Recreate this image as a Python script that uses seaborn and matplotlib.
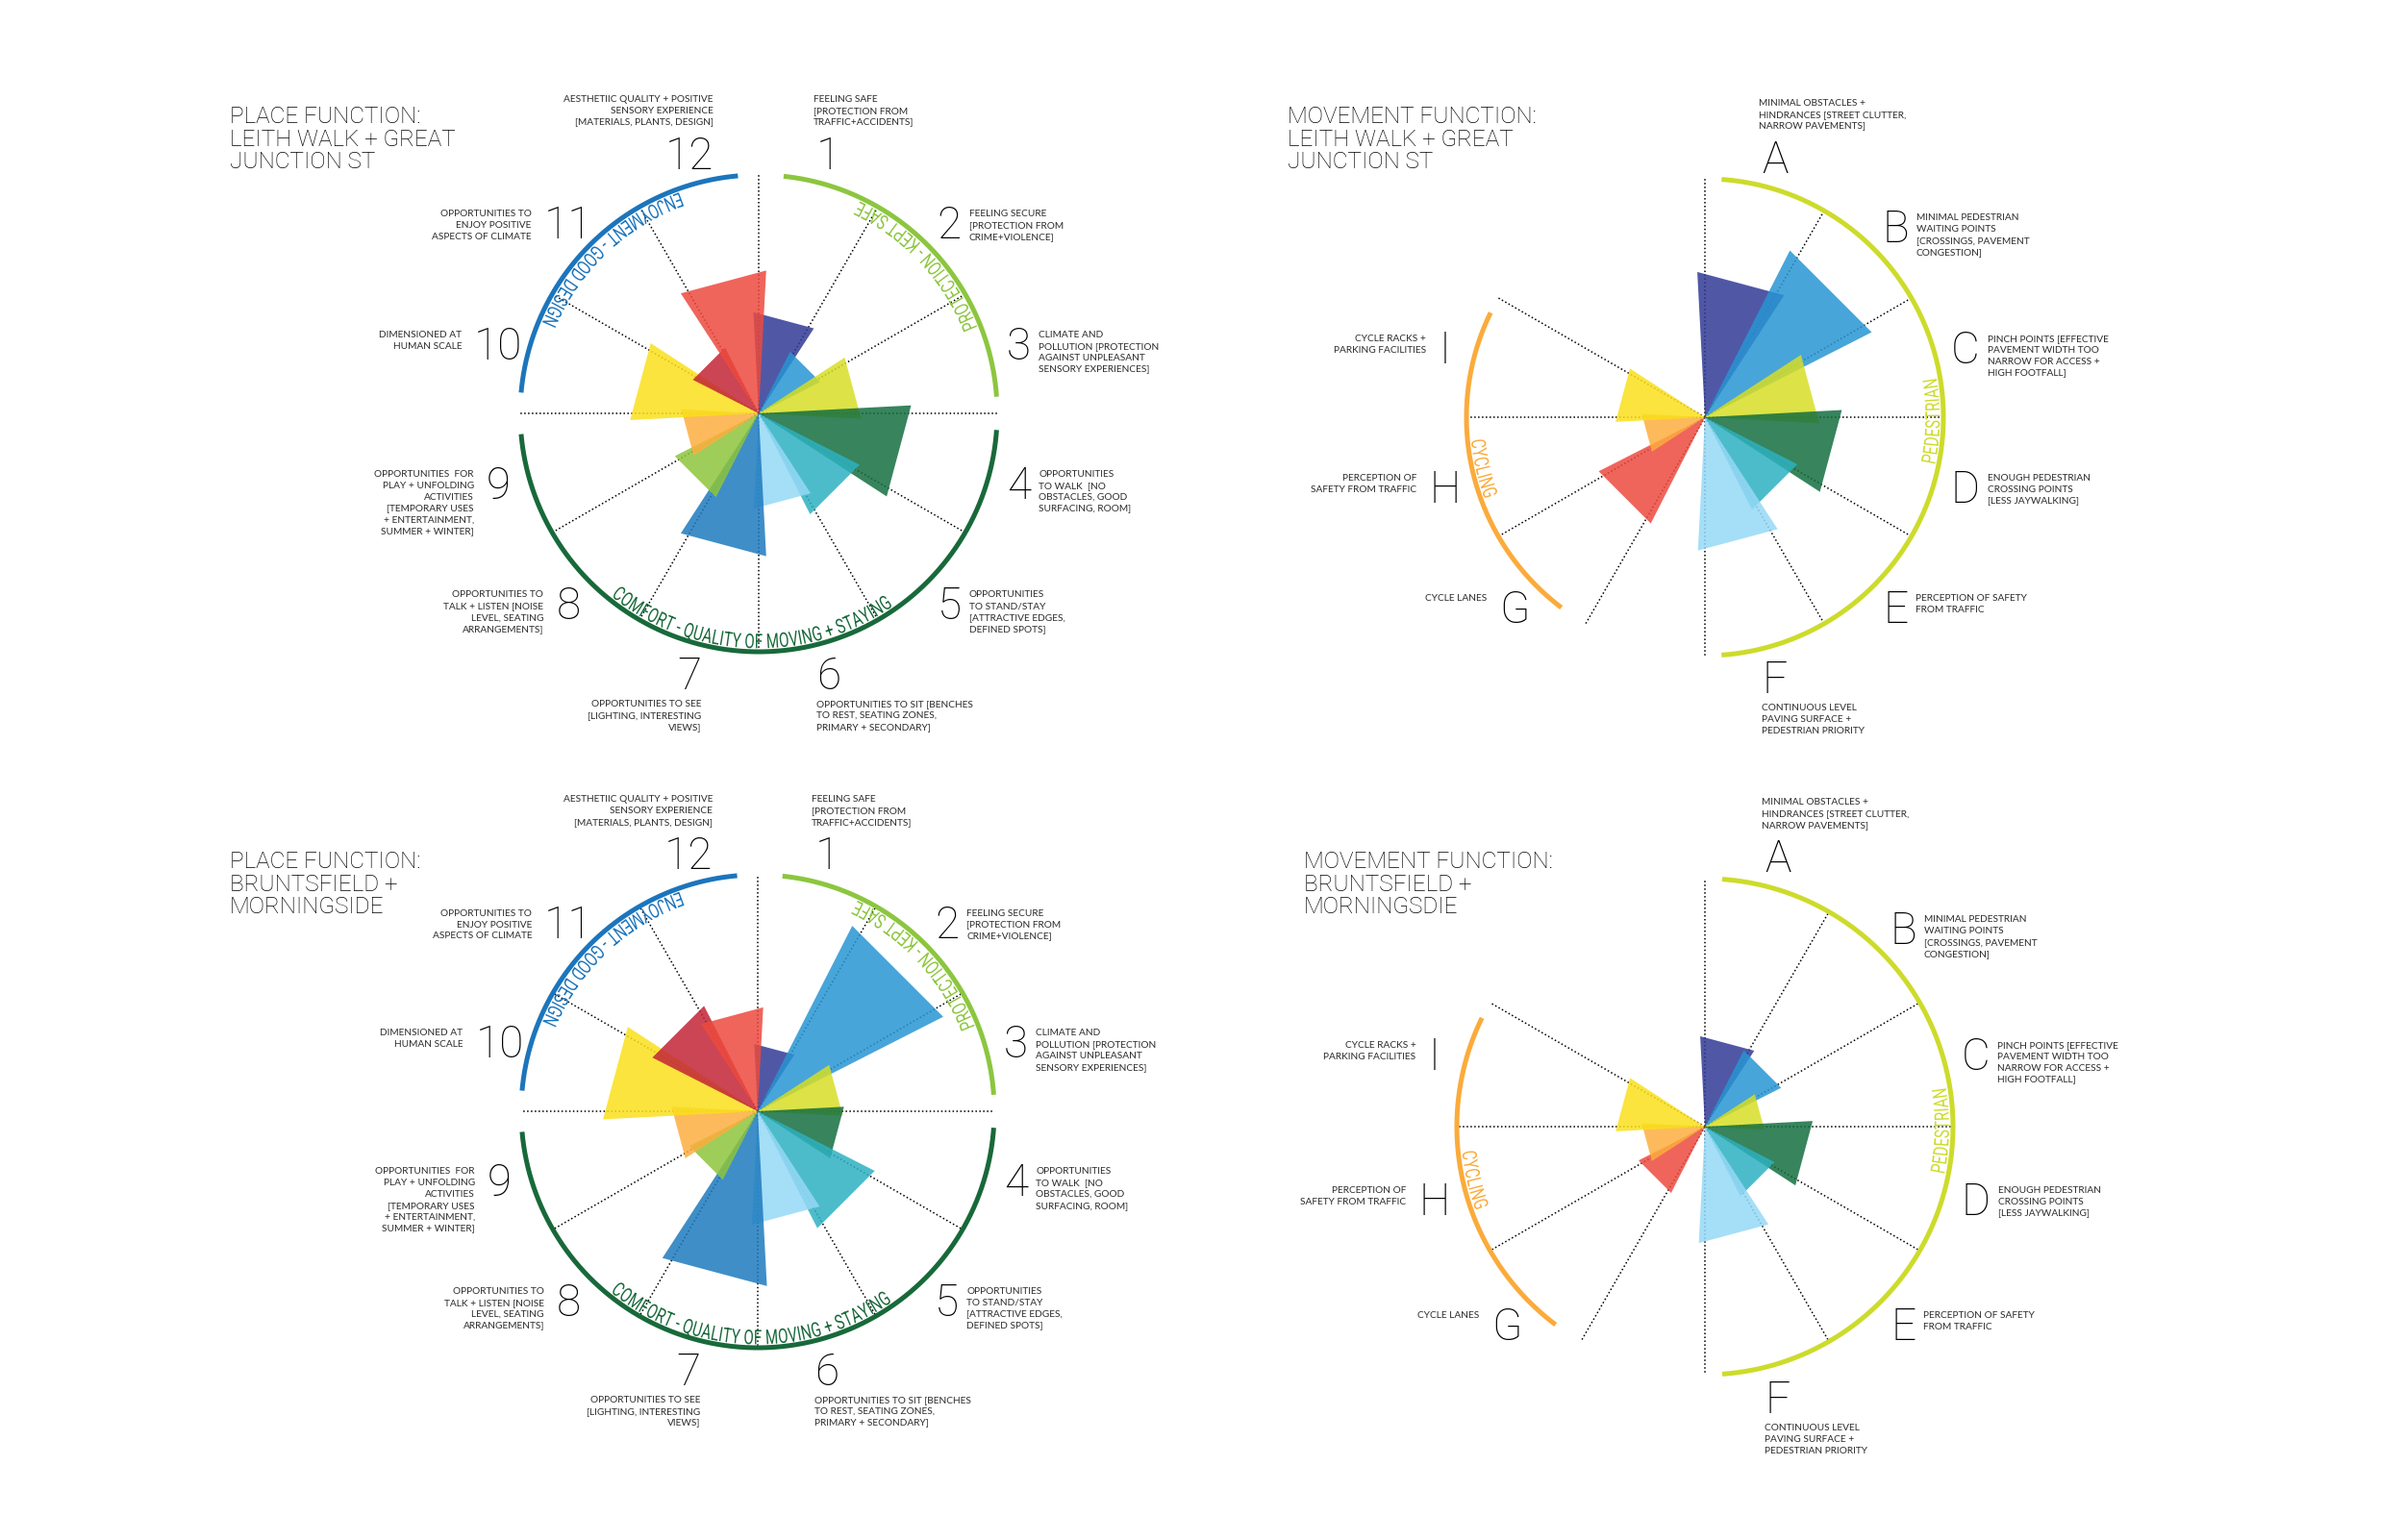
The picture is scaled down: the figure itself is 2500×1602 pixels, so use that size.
import numpy as np
import matplotlib
matplotlib.use("Agg")
import matplotlib.pyplot as plt
import matplotlib.colors as mcolors
import seaborn as sns
from matplotlib.patches import PathPatch
from matplotlib.textpath import TextPath
from matplotlib.font_manager import FontProperties, findfont, get_font
from matplotlib.transforms import Affine2D

# ---------------- data (scores on a 0-10 scale, 10 = outer ring) ----------------
place_labels = ["1", "2", "3", "4", "5", "6", "7", "8", "9", "10", "11", "12"]
place_text = [
    "FEELING SAFE\n[PROTECTION FROM\nTRAFFIC+ACCIDENTS]",
    "FEELING SECURE\n[PROTECTION FROM\nCRIME+VIOLENCE]",
    "CLIMATE AND\nPOLLUTION [PROTECTION\nAGAINST UNPLEASANT\nSENSORY EXPERIENCES]",
    "OPPORTUNITIES\nTO WALK  [NO\nOBSTACLES, GOOD\nSURFACING, ROOM]",
    "OPPORTUNITIES\nTO STAND/STAY\n[ATTRACTIVE EDGES,\nDEFINED SPOTS]",
    "OPPORTUNITIES TO SIT [BENCHES\nTO REST, SEATING ZONES,\nPRIMARY + SECONDARY]",
    "OPPORTUNITIES TO SEE\n[LIGHTING, INTERESTING\nVIEWS]",
    "OPPORTUNITIES TO\nTALK + LISTEN [NOISE\nLEVEL, SEATING\nARRANGEMENTS]",
    "OPPORTUNITIES  FOR\nPLAY + UNFOLDING\nACTIVITIES\n[TEMPORARY USES\n+ ENTERTAINMENT,\nSUMMER + WINTER]",
    "DIMENSIONED AT\nHUMAN SCALE",
    "OPPORTUNITIES TO\nENJOY POSITIVE\nASPECTS OF CLIMATE",
    "AESTHETIIC QUALITY + POSITIVE\nSENSORY EXPERIENCE\n[MATERIALS, PLANTS, DESIGN]",
]
place_leith = [4.25, 2.9, 4.3, 6.4, 4.75, 4.0, 6.0, 3.95, 3.25, 5.4, 3.1, 6.0]
place_brunts = [2.85, 8.8, 3.6, 3.65, 5.55, 4.8, 7.4, 3.25, 3.65, 6.55, 5.0, 4.4]

move_labels = ["A", "B", "C", "D", "E", "F", "G", "H", "I"]
move_text = [
    "MINIMAL OBSTACLES +\nHINDRANCES [STREET CLUTTER,\nNARROW PAVEMENTS]",
    "MINIMAL PEDESTRIAN\nWAITING POINTS\n[CROSSINGS, PAVEMENT\nCONGESTION]",
    "PINCH POINTS [EFFECTIVE\nPAVEMENT WIDTH TOO\nNARROW FOR ACCESS +\nHIGH FOOTFALL]",
    "ENOUGH PEDESTRIAN\nCROSSING POINTS\n[LESS JAYWALKING]",
    "PERCEPTION OF SAFETY\nFROM TRAFFIC",
    "CONTINUOUS LEVEL\nPAVING SURFACE +\nPEDESTRIAN PRIORITY",
    "CYCLE LANES",
    "PERCEPTION OF\nSAFETY FROM TRAFFIC",
    "CYCLE RACKS +\nPARKING FACILITIES",
]
move_leith = [6.1, 7.85, 4.8, 5.75, 4.35, 5.6, 5.0, 2.65, 3.75]
move_brunts = [3.65, 3.45, 2.4, 4.35, 3.15, 4.7, 3.0, 2.55, 3.6]

place_colors = ["#5058a6", "#48a5da", "#dde346", "#37855d", "#4dbdca", "#a6dff7",
                "#3f8ec8", "#9fce59", "#fdba5c", "#fbe53d", "#cb4554", "#f0655b"]
move_colors = ["#5058a6", "#48a5da", "#dde346", "#37855d", "#4dbdca", "#a6dff7",
               "#f0655b", "#fdba5c", "#fbe53d"]

# group rings: name, start deg, end deg, text centre deg, colour
place_groups = [("ENJOYMENT - GOOD DESIGN", 95, 175, 133.5, "#1c75bc"),
                ("PROTECTION - KEPT SAFE", 4, 84, 43, "#8cc63f"),
                ("COMFORT - QUALITY OF MOVING + STAYING", 185, 356, 268, "#18693a")]
move_groups = [("PEDESTRIAN", -86, 86, -1, "#cddb2b"),
               ("CYCLING", 154, 233, 193, "#fbab3b")]

# sector centres (deg, counter-clockwise from east) and guide lines
place_angles = [(75 - 30 * i + 180) % 360 - 180 for i in range(12)]
move_slots = [0, 1, 2, 3, 4, 5, 7, 8, 9]
move_angles = [(75 - 30 * k + 180) % 360 - 180 for k in move_slots]
place_lines = [90 - 30 * j for j in range(12)]
move_lines = [90 - 30 * j for j in range(11)]

# ---------------- style ----------------
sns.set_theme(style="white")
plt.rcParams["font.family"] = ["Lato", "DejaVu Sans"]
THIN = ["Roboto", "DejaVu Sans"]

W, H = 2500, 1602
fig = plt.figure(figsize=(W / 100, H / 100), dpi=100)
fig.patch.set_facecolor("white")
renderer = fig.canvas.get_renderer()

ALPHA = 0.85
NUM_PT = 33


def solid(c):
    rgb = np.array(mcolors.to_rgb(c))
    return tuple(np.clip(1 - (1 - rgb) / ALPHA, 0, 1))


arc_fp = FontProperties(family="Roboto")
arc_font = get_font(findfont(arc_fp))
arc_font.set_size(100, 72)


def arc_text(ax, text, mid_deg, r, size, color, squeeze=0.72):
    # letters laid along the ring, running counter-clockwise, tops toward the centre
    em = np.array([arc_font.load_char(ord(c)).linearHoriAdvance / 65536 / 100 for c in text])
    adv = em * size * squeeze
    pos = np.cumsum(adv) - adv / 2
    phi0 = np.radians(mid_deg) - adv.sum() / r / 2
    for c, p, a in zip(text, pos, adv):
        if c == " ":
            continue
        phi = phi0 + p / r
        tp = TextPath((0, 0), c, size=size, prop=arc_fp)
        tr = (Affine2D().translate(-a / squeeze / 2, -0.711 * size / 2)
              .scale(squeeze, 1).rotate(phi + np.pi / 2)
              .translate(r * np.cos(phi), r * np.sin(phi)))
        ax.add_patch(PathPatch(tr.transform_path(tp), fc=color, ec="none", lw=0, zorder=2))


def draw_chart(cx, cy, R_px, values, colors, angles, labels, texts, lines, groups,
               title, tx, ty):
    s = R_px / 10.0
    half = 560
    ax = fig.add_axes([(cx - half) / W, 1 - (cy + half) / H, 2 * half / W, 2 * half / H])
    ax.set_xlim(-half / s, half / s)
    ax.set_ylim(-half / s, half / s)
    ax.set_axis_off()

    for a in lines:
        t = np.radians(a)
        ax.plot([0, 10 * np.cos(t)], [0, 10 * np.sin(t)], color="black", lw=1.1,
                ls=(0, (1, 1.6)), zorder=1)

    for name, a0, a1, amid, col in groups:
        t = np.radians(np.linspace(a0, a1, 300))
        ax.plot(10 * np.cos(t), 10 * np.sin(t), color=col, lw=3.6,
                solid_capstyle="butt", zorder=2)
        arc_text(ax, name, amid, 9.55, 21 / s, col)

    for v, a, c in zip(values, angles, colors):
        t = np.radians([a - 18, a + 18])
        ax.fill([0, v * np.cos(t[0]), v * np.cos(t[1])],
                [0, v * np.sin(t[0]), v * np.sin(t[1])],
                color=solid(c), alpha=ALPHA, lw=0, zorder=3)

    inv = ax.transData.inverted()
    cap = 0.711 * NUM_PT * 100 / 72 / s
    for lab, txt, a in zip(labels, texts, angles):
        t = np.radians(a)
        num = ax.text(11.3 * np.cos(t), 11.3 * np.sin(t) - cap / 2, lab, ha="center",
                      va="baseline", fontsize=NUM_PT, family=THIN, fontweight="light",
                      color="black")
        bb = num.get_window_extent(renderer)
        if 60 < a < 120:
            x, ha = (bb.x1, "right") if a > 90 else (bb.x0 - 3, "left")
            y, va = bb.y1 + 9, "bottom"
        elif -120 < a < -60:
            x, ha = (bb.x1, "right") if a < -90 else (bb.x0, "left")
            y, va = bb.y0 - 2, "top"
        elif np.cos(t) > 0:
            x, ha = bb.x1 + 8, "left"
            y, va = bb.y1 - 5, "top"
        else:
            x, ha = bb.x0 - 13, "right"
            y, va = bb.y1 - 5, "top"
        dx, dy = inv.transform((x, y))
        ax.text(dx, dy, txt, ha=ha, va=va, multialignment=ha, fontsize=7.3,
                linespacing=1.41, color="#2a2a2a")

    fig.text(tx / W, 1 - ty / H, title, ha="left", va="top", fontsize=17.5,
             family=THIN, fontweight="light", linespacing=1.04, color="black")


draw_chart(789, 430, 248, place_leith, place_colors, place_angles, place_labels,
           place_text, place_lines, place_groups,
           "PLACE FUNCTION:\nLEITH WALK + GREAT\nJUNCTION ST", 239, 110)
draw_chart(788, 1156, 246, place_brunts, place_colors, place_angles, place_labels,
           place_text, place_lines, place_groups,
           "PLACE FUNCTION:\nBRUNTSFIELD +\nMORNINGSIDE", 239, 885)
draw_chart(1773, 434, 248, move_leith, move_colors, move_angles, move_labels,
           move_text, move_lines, move_groups,
           "MOVEMENT FUNCTION:\nLEITH WALK + GREAT\nJUNCTION ST", 1339, 110)
draw_chart(1773, 1172, 258, move_brunts, move_colors, move_angles, move_labels,
           move_text, move_lines, move_groups,
           "MOVEMENT FUNCTION:\nBRUNTSFIELD +\nMORNINGSDIE", 1356, 885)

fig.savefig("out.png", dpi=100, facecolor="white")
